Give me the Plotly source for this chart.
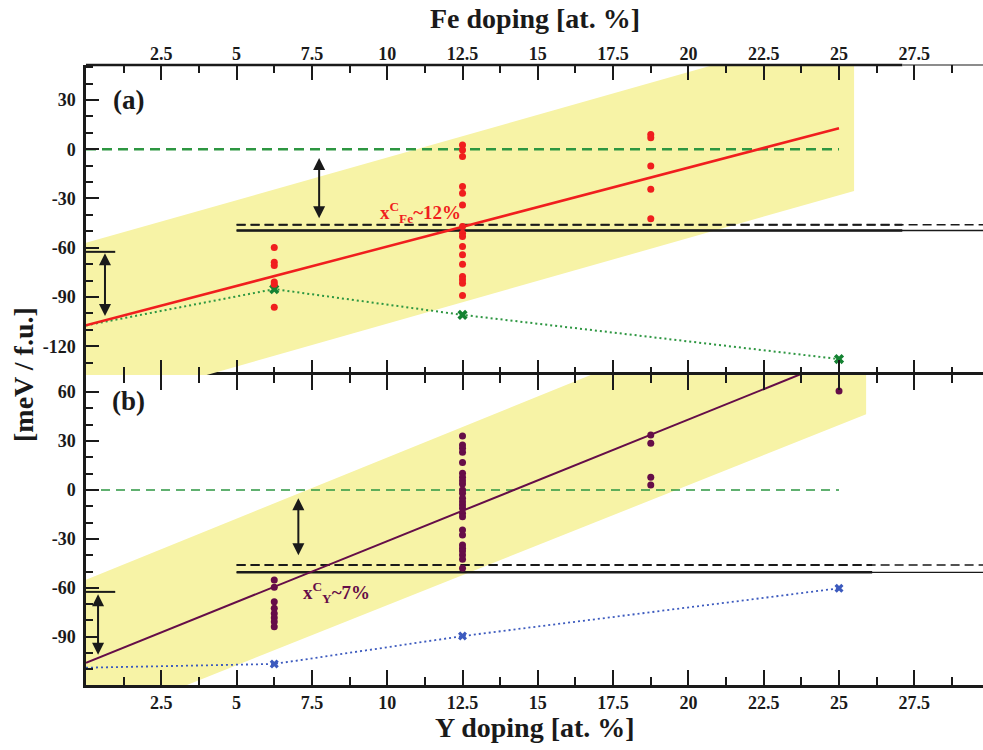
import plotly.graph_objects as go

# ---------------- data ----------------
x_ticks = [2.5, 5, 7.5, 10, 12.5, 15, 17.5, 20, 22.5, 25, 27.5]
x_ticklabels = ["2.5", "5", "7.5", "10", "12.5", "15", "17.5", "20", "22.5", "25", "27.5"]
ya_ticks = [-120, -90, -60, -30, 0, 30]
yb_ticks = [-90, -60, -30, 0, 30, 60]

# panel (a): Fe doping
fe_x_cols = [6.25] * 6 + [12.5] * 16 + [18.75] * 5
fe_vals = [-59.9, -68.8, -70.8, -80.9, -82.2, -96.2,
           2.6, -4.5, -22.7, -26.8, -33.9, -47.1, -51.1, -53.2, -59.3, -64.3, -70.0,
           -77.5, -79.5, -81.6, -89.1, -0.5,
           9.0, 7.0, -10.2, -24.3, -42.4]
fe_fit_x = [0, 25]
fe_fit_y = [-107.3, 12.8]
fe_ref_x = [0, 6.25, 12.5, 25]
fe_ref_y = [-107.3, -85.2, -100.9, -127.8]
fe_band_x = [0, 25.5, 25.5, 0, 0]
fe_band_y = [-57.0, 75.6, -25.4, -158.4, -57.0]
fe_solid_y = -49.5
fe_dash_y = -46.0

# panel (b): Y doping
y_x_cols = [6.25] * 8 + [12.5] * 25 + [18.75] * 4 + [25]
y_vals = [-55.2, -59.7, -68.5, -72.6, -75.7, -78.4, -80.8, -83.9,
          33.1, 27.6, 25.6, 23.1, 16.8, 10.2, 7.8, 5.7, 3.7, 0.0, -2.0, -5.1, -7.2,
          -9.2, -11.2, -14.3, -16.4, -24.5, -27.6, -33.7, -35.8, -37.4, -39.9, -42.5, -48.0,
          33.7, 28.6, 7.8, 3.1,
          60.7]
y_fit_x = [0, 25]
y_fit_y = [-106.0, 80.5]
y_ref_x = [0, 6.25, 12.5, 25]
y_ref_y = [-109.0, -106.7, -89.6, -60.3]
y_band_x = [0, 25.9, 25.9, 0, 0]
y_band_y = [-55.0, 139.0, 46.4, -144.3, -55.0]
y_solid_y = -50.5
y_dash_y = -46.0

# reference levels / markers
zero_x = [0, 25]
long_x = [5, 29.78]
thick_x_a = [5, 27.1]
thick_x_b = [5, 26.1]
short_x = [0, 0.97]
short_y = -62.5
top_thick_x = [0, 27.1]
top_thin_x = [27.1, 29.78]
# double arrows: (x, y_top, y_bottom)
arrows_a = [(0.63, -62.5, -101.5), (7.74, -4.5, -42.0)]
arrows_b = [(0.4, -63.0, -101.0), (7.05, -4.1, -40.0)]
vline_x = 25
vline_a_y = [-127.8, -140]
vline_b_y = [60.7, 75]

# ---------------- style ----------------
FONT = "Liberation Serif"
YELLOW = "#f7f3a6"
RED = "rgb(240,30,30)"
PURPLE = "#650d48"
GREEN = "rgb(45,150,65)"
GREEN_X = "rgb(20,130,50)"
BLUE = "rgb(60,90,190)"
AX = "#1a1a1a"

fig = go.Figure()

def add(tr):
    fig.add_trace(tr)

# ----- panel (a) (x2, y) -----
add(go.Scatter(x=fe_band_x, y=fe_band_y, fill="toself", fillcolor=YELLOW,
               line=dict(width=0), mode="lines", xaxis="x2", yaxis="y", hoverinfo="skip"))
add(go.Scatter(x=zero_x, y=[0, 0], mode="lines", xaxis="x2", yaxis="y",
               line=dict(color=GREEN, width=2.5, dash="10px,6px")))
add(go.Scatter(x=long_x, y=[fe_dash_y] * 2, mode="lines", xaxis="x2", yaxis="y",
               line=dict(color=AX, width=1.3, dash="9px,5px")))
add(go.Scatter(x=thick_x_a, y=[fe_dash_y] * 2, mode="lines", xaxis="x2", yaxis="y",
               line=dict(color=AX, width=2, dash="9px,5px")))
add(go.Scatter(x=long_x, y=[fe_solid_y] * 2, mode="lines", xaxis="x2", yaxis="y",
               line=dict(color=AX, width=1.3)))
add(go.Scatter(x=thick_x_a, y=[fe_solid_y] * 2, mode="lines", xaxis="x2", yaxis="y",
               line=dict(color=AX, width=2.5)))
add(go.Scatter(x=short_x, y=[short_y] * 2, mode="lines", xaxis="x2", yaxis="y",
               line=dict(color=AX, width=2)))
add(go.Scatter(x=[vline_x] * 2, y=vline_a_y, mode="lines", xaxis="x2", yaxis="y",
               line=dict(color="#444", width=1.5)))
add(go.Scatter(x=fe_ref_x, y=fe_ref_y, mode="lines", xaxis="x2", yaxis="y",
               line=dict(color=GREEN, width=2, dash="2px,3px")))
add(go.Scatter(x=fe_ref_x[1:], y=fe_ref_y[1:], mode="markers", xaxis="x2", yaxis="y",
               marker=dict(symbol="x", size=9, color=GREEN_X, line=dict(width=0))))
add(go.Scatter(x=fe_fit_x, y=fe_fit_y, mode="lines", xaxis="x2", yaxis="y",
               line=dict(color=RED, width=2.5)))
add(go.Scatter(x=fe_x_cols, y=fe_vals, mode="markers", xaxis="x2", yaxis="y",
               marker=dict(symbol="circle", size=7, color=RED)))

# ----- panel (b) (x, y2) -----
add(go.Scatter(x=y_band_x, y=y_band_y, fill="toself", fillcolor=YELLOW,
               line=dict(width=0), mode="lines", xaxis="x", yaxis="y2", hoverinfo="skip"))
add(go.Scatter(x=zero_x, y=[0, 0], mode="lines", xaxis="x", yaxis="y2",
               line=dict(color=GREEN, width=1.6, dash="9px,6px")))
add(go.Scatter(x=long_x, y=[y_dash_y] * 2, mode="lines", xaxis="x", yaxis="y2",
               line=dict(color=AX, width=1.3, dash="9px,5px")))
add(go.Scatter(x=thick_x_b, y=[y_dash_y] * 2, mode="lines", xaxis="x", yaxis="y2",
               line=dict(color=AX, width=1.8, dash="9px,5px")))
add(go.Scatter(x=long_x, y=[y_solid_y] * 2, mode="lines", xaxis="x", yaxis="y2",
               line=dict(color=AX, width=1.3)))
add(go.Scatter(x=thick_x_b, y=[y_solid_y] * 2, mode="lines", xaxis="x", yaxis="y2",
               line=dict(color=AX, width=2.5)))
add(go.Scatter(x=short_x, y=[short_y] * 2, mode="lines", xaxis="x", yaxis="y2",
               line=dict(color=AX, width=2)))
add(go.Scatter(x=[vline_x] * 2, y=vline_b_y, mode="lines", xaxis="x", yaxis="y2",
               line=dict(color="#444", width=1.5)))
add(go.Scatter(x=y_ref_x, y=y_ref_y, mode="lines", xaxis="x", yaxis="y2",
               line=dict(color=BLUE, width=1.8, dash="2px,3px")))
add(go.Scatter(x=y_ref_x[1:], y=y_ref_y[1:], mode="markers", xaxis="x", yaxis="y2",
               marker=dict(symbol="x", size=8, color=BLUE, line=dict(width=0))))
add(go.Scatter(x=y_fit_x, y=y_fit_y, mode="lines", xaxis="x", yaxis="y2",
               line=dict(color=PURPLE, width=2)))
add(go.Scatter(x=y_x_cols, y=y_vals, mode="markers", xaxis="x", yaxis="y2",
               marker=dict(symbol="circle", size=7, color=PURPLE)))

# ----- annotations -----
ann = []
for (ax_, y0, y1) in arrows_a:
    ann.append(dict(x=ax_, y=y1, ax=ax_, ay=y0, xref="x2", yref="y", axref="x2", ayref="y",
                    text="", showarrow=True, arrowside="end+start", arrowhead=2,
                    arrowsize=1.2, arrowwidth=2, arrowcolor=AX))
for (ax_, y0, y1) in arrows_b:
    ann.append(dict(x=ax_, y=y1, ax=ax_, ay=y0, xref="x", yref="y2", axref="x", ayref="y2",
                    text="", showarrow=True, arrowside="end+start", arrowhead=2,
                    arrowsize=1.2, arrowwidth=2, arrowcolor=AX))

tf = dict(family=FONT, weight="bold")
ann += [
    dict(x=1.4, y=30, xref="x2", yref="y", text="(a)", showarrow=False,
         font=dict(size=27, color=AX, **tf)),
    dict(x=1.4, y=54.6, xref="x", yref="y2", text="(b)", showarrow=False,
         font=dict(size=27, color=AX, **tf)),
    dict(x=11.1, y=-38.5, xref="x2", yref="y", text="x<sup>C</sup><sub>Fe</sub>~12%",
         showarrow=False, font=dict(size=19, color=RED, **tf)),
    dict(x=8.33, y=-62.6, xref="x", yref="y2", text="x<sup>C</sup><sub>Y</sub>~7%",
         showarrow=False, font=dict(size=19, color=PURPLE, **tf)),
    dict(x=0.5, y=1, xref="paper", yref="paper", text="Fe doping [at. %]", showarrow=False,
         yanchor="middle", yshift=47, font=dict(size=28, color=AX, **tf)),
    dict(x=0.5, y=0, xref="paper", yref="paper", text="Y doping [at. %]", showarrow=False,
         yanchor="middle", yshift=-42, font=dict(size=28, color=AX, **tf)),
    dict(x=0, y=0.5, xref="paper", yref="paper", text="[meV / f.u.]", showarrow=False,
         textangle=-90, xanchor="center", yanchor="middle", xshift=-63,
         font=dict(size=28, color=AX, **tf)),
]

# top frame line: thick part and thin extension
shapes = [
    dict(type="line", xref="x2", yref="paper", x0=top_thick_x[0], x1=top_thick_x[1],
         y0=1, y1=1, line=dict(color=AX, width=2.5)),
    dict(type="line", xref="x2", yref="paper", x0=top_thin_x[0], x1=top_thin_x[1],
         y0=1, y1=1, line=dict(color=AX, width=1.2)),
]

minor_x = [1.25 * k for k in range(0, 25)]
tickfont = dict(family=FONT, size=18, color=AX, weight="bold")


def xcommon(showline):
    return dict(range=[0, 29.78], tickmode="array", tickvals=x_ticks, ticktext=x_ticklabels,
                ticks="inside", ticklen=15, tickwidth=2, tickcolor=AX,
                minor=dict(tickmode="array", tickvals=minor_x, ticks="inside", ticklen=8,
                           tickwidth=1.5, tickcolor=AX),
                showline=showline, linewidth=2.5, linecolor=AX, mirror="ticks",
                showgrid=False, zeroline=False, tickfont=tickfont, domain=[0, 1],
                automargin=False)


def ycommon(rng, vals):
    minor_vals = list(range(-150, 80, 10))
    return dict(range=rng, tickmode="array", tickvals=vals, ticktext=[str(v) for v in vals],
                ticks="inside", ticklen=13, tickwidth=2, tickcolor=AX,
                minor=dict(tickmode="array", tickvals=minor_vals, ticks="inside", ticklen=7,
                           tickwidth=1.5, tickcolor=AX),
                showline=True, linewidth=2.5, linecolor=AX,
                showgrid=False, zeroline=False, tickfont=tickfont, anchor="x",
                ticklabelstandoff=4, automargin=False)


fig.update_layout(
    width=983, height=750,
    margin=dict(l=86, r=0, t=65, b=65, autoexpand=False),
    paper_bgcolor="white", plot_bgcolor="white",
    showlegend=False,
    xaxis=dict(anchor="y2", side="bottom", **xcommon(True)),
    xaxis2=dict(anchor="y", side="top", matches="x", **xcommon(False)),
    yaxis=dict(domain=[0.5, 1], **ycommon([-137.5, 51.3], ya_ticks)),
    yaxis2=dict(domain=[0, 0.5], **ycommon([-119.6, 70.5], yb_ticks)),
    annotations=ann,
    shapes=shapes,
)

fig.write_html("out.html", config={"displayModeBar": False},
               post_script="document.body.style.margin='0px';document.body.style.overflow='hidden';")
